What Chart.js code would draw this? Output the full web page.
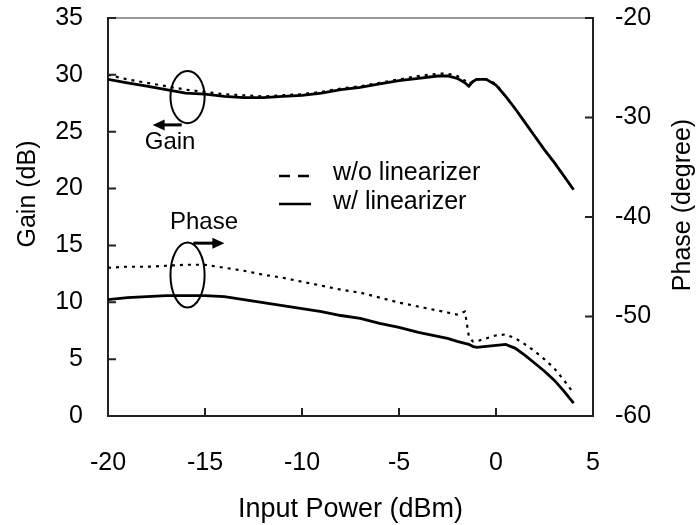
<!DOCTYPE html>
<html>
<head>
<meta charset="utf-8">
<script src="https://cdn.jsdelivr.net/npm/chart.js@4/dist/chart.umd.min.js"></script>
<style>
  body { margin: 0; background: #fff; }
  #wrap { width: 700px; height: 525px; }
</style>
</head>
<body>
<div id="wrap"><canvas id="c" width="700" height="525"></canvas></div>
<script>
// input power sweep (dBm)
const inputPower = [-20, -19, -18, -17, -16, -15, -14, -13, -12, -11, -10, -9, -8, -7, -6, -5, -4, -3,
  -2.5, -2, -1.6, -1.4, -1.2, -1, -0.5, 0, 0.5, 1, 1.5, 2, 2.5, 3, 3.5, 4];

const gainWithout = [30.0, 29.6, 29.3, 29.0, 28.7, 28.5, 28.3, 28.2, 28.1, 28.2, 28.3, 28.5, 28.8, 29.0,
  29.3, 29.6, 29.9, 30.1, 30.1, 29.9, 29.5, 29.2, 29.4, 29.6, 29.6, 29.2, 28.1, 27.0, 25.8, 24.6, 23.4,
  22.3, 21.1, 19.9];
const gainWith = [29.6, 29.3, 29.0, 28.7, 28.4, 28.3, 28.1, 28.0, 28.0, 28.1, 28.2, 28.4, 28.7, 28.9,
  29.2, 29.5, 29.7, 29.9, 29.9, 29.7, 29.3, 29.0, 29.4, 29.6, 29.6, 29.1, 28.1, 27.0, 25.8, 24.6, 23.4,
  22.3, 21.1, 19.9];

const phaseWithout = [-45.1, -45.0, -45.0, -44.9, -44.8, -44.8, -45.1, -45.4, -45.8, -46.1, -46.5, -46.9,
  -47.3, -47.6, -48.1, -48.6, -49.0, -49.4, -49.6, -49.8, -49.5, -52.0, -52.5, -52.5, -52.2, -51.9, -51.8,
  -52.2, -52.8, -53.5, -54.3, -55.2, -56.4, -57.7];
const phaseWith = [-48.3, -48.1, -48.0, -47.9, -47.9, -47.9, -48.0, -48.3, -48.6, -48.9, -49.2, -49.5,
  -49.9, -50.2, -50.7, -51.1, -51.6, -52.0, -52.2, -52.5, -52.7, -52.8, -53.0, -53.1, -53.0, -52.9, -52.8,
  -53.2, -53.9, -54.7, -55.5, -56.4, -57.5, -58.7];

const legendLabels = ['w/o linearizer', 'w/ linearizer'];
const xTitle = 'Input Power (dBm)';
const yTitle = 'Gain (dB)';
const y2Title = 'Phase (degree)';

const FONT = '"Liberation Sans", Arial, sans-serif';
const pts = ys => ys.map((y, i) => ({ x: inputPower[i], y }));
const DOT = [3, 5];

// ellipse / arrow call-outs, in data units
const notes = {
  gain: { cx: -15.9, cy: 28.05, rx: 0.88, ry: 2.3, ax0: -16.2, ax1: -17.7, ay: 25.6, text: 'Gain', tx: -16.8, ty: 24.1 },
  phase: { cx: -15.9, cy: 12.4, rx: 0.88, ry: 2.85, ax0: -15.6, ax1: -14.0, ay: 15.2, text: 'Phase', tx: -15.05, ty: 17.0 }
};

const decor = {
  id: 'decor',
  afterDatasetsDraw(chart) {
    const { ctx, chartArea: a, scales } = chart;
    const x = scales.x, y = scales.y, y2 = scales.y2;
    ctx.save();
    // top frame line
    ctx.strokeStyle = '#9a9a9a';
    ctx.lineWidth = 2;
    ctx.beginPath(); ctx.moveTo(a.left, a.top); ctx.lineTo(a.right, a.top); ctx.stroke();
    // inward ticks
    ctx.strokeStyle = '#222';
    ctx.lineWidth = 2;
    ctx.beginPath();
    y.ticks.forEach(t => { const p = y.getPixelForValue(t.value); ctx.moveTo(a.left, p); ctx.lineTo(a.left + 8, p); });
    y2.ticks.forEach(t => { const p = y2.getPixelForValue(t.value); ctx.moveTo(a.right, p); ctx.lineTo(a.right - 8, p); });
    x.ticks.forEach(t => { const p = x.getPixelForValue(t.value); ctx.moveTo(p, a.bottom); ctx.lineTo(p, a.bottom - 8); });
    ctx.stroke();

    // call-outs
    ctx.strokeStyle = '#000';
    ctx.fillStyle = '#000';
    Object.values(notes).forEach(n => {
      const cx = x.getPixelForValue(n.cx), cy = y.getPixelForValue(n.cy);
      const rx = Math.abs(x.getPixelForValue(n.cx + n.rx) - cx);
      const ry = Math.abs(y.getPixelForValue(n.cy + n.ry) - cy);
      ctx.lineWidth = 2;
      ctx.beginPath(); ctx.ellipse(cx, cy, rx, ry, 0, 0, Math.PI * 2); ctx.stroke();
      const x0 = x.getPixelForValue(n.ax0), x1 = x.getPixelForValue(n.ax1), ay = y.getPixelForValue(n.ay);
      const dir = Math.sign(x1 - x0);
      ctx.lineWidth = 3;
      ctx.beginPath(); ctx.moveTo(x0, ay); ctx.lineTo(x1 - dir * 9, ay); ctx.stroke();
      ctx.beginPath(); ctx.moveTo(x1, ay); ctx.lineTo(x1 - dir * 12, ay - 5.5); ctx.lineTo(x1 - dir * 12, ay + 5.5); ctx.closePath(); ctx.fill();
      ctx.font = '24px ' + FONT;
      ctx.textAlign = 'center'; ctx.textBaseline = 'middle';
      ctx.fillText(n.text, x.getPixelForValue(n.tx), y.getPixelForValue(n.ty));
    });

    // legend
    const ds = chart.data.datasets;
    [[ds[0], 176, 173], [ds[1], 204, 202]].forEach(([d, ly, ty], i) => {
      ctx.lineWidth = 2.5;
      ctx.setLineDash(i === 0 ? [11, 8] : []);
      ctx.beginPath(); ctx.moveTo(279, ly); ctx.lineTo(311, ly); ctx.stroke();
      ctx.setLineDash([]);
      ctx.font = '25px ' + FONT;
      ctx.textAlign = 'left'; ctx.textBaseline = 'middle';
      ctx.fillText(legendLabels[i], 333, ty);
    });

    // axis titles
    ctx.textAlign = 'center'; ctx.textBaseline = 'middle';
    ctx.font = '27px ' + FONT;
    ctx.fillText(xTitle, (a.left + a.right) / 2, 510);
    ctx.font = '25px ' + FONT;
    ctx.save(); ctx.translate(28, 194); ctx.rotate(-Math.PI / 2); ctx.fillText(yTitle, 0, 0); ctx.restore();
    ctx.save(); ctx.translate(683, 205); ctx.rotate(-Math.PI / 2); ctx.fillText(y2Title, 0, 0); ctx.restore();
    ctx.restore();
  }
};

const tickFont = { family: FONT, size: 25 };
const noPad = s => { s.paddingTop = 0; s.paddingBottom = 0; s.paddingLeft = 0; s.paddingRight = 0; };

new Chart(document.getElementById('c'), {
  type: 'line',
  data: {
    datasets: [
      { label: legendLabels[0] + ' gain', data: pts(gainWithout), yAxisID: 'y', borderDash: DOT, borderWidth: 2.2 },
      { label: legendLabels[1] + ' gain', data: pts(gainWith), yAxisID: 'y', borderWidth: 2.8 },
      { label: legendLabels[0] + ' phase', data: pts(phaseWithout), yAxisID: 'y2', borderDash: DOT, borderWidth: 2.2 },
      { label: legendLabels[1] + ' phase', data: pts(phaseWith), yAxisID: 'y2', borderWidth: 2.8 }
    ].map(d => Object.assign({ borderColor: '#000', pointRadius: 0, tension: 0, fill: false }, d))
  },
  options: {
    responsive: false,
    animation: false,
    layout: { padding: { top: 18, left: 0, right: 0, bottom: 0 } },
    plugins: { legend: { display: false }, tooltip: { enabled: false } },
    scales: {
      x: {
        type: 'linear', min: -20, max: 5,
        ticks: { stepSize: 5, font: tickFont, color: '#000', padding: 32, maxRotation: 0 },
        grid: { display: false, drawTicks: false },
        border: { display: true, color: '#222', width: 2 },
        afterFit: s => { s.height = 109; noPad(s); }
      },
      y: {
        position: 'left', min: 0, max: 35,
        ticks: { stepSize: 5, font: tickFont, color: '#000', padding: 25 },
        grid: { display: false, drawTicks: false },
        border: { display: true, color: '#222', width: 2 },
        afterFit: s => { s.width = 108; noPad(s); }
      },
      y2: {
        position: 'right', min: -60, max: -20,
        ticks: { stepSize: 10, font: tickFont, color: '#000', padding: 22 },
        grid: { display: false, drawTicks: false },
        border: { display: true, color: '#222', width: 2 },
        afterFit: s => { s.width = 107; noPad(s); }
      }
    }
  },
  plugins: [decor]
});
</script>
</body>
</html>
